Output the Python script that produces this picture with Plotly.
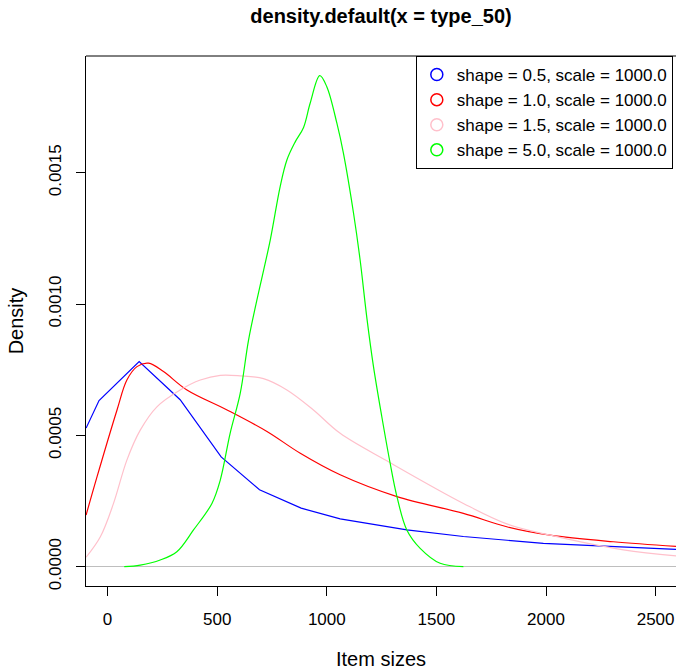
import plotly.graph_objects as go

# density estimates (x = item size, y = density)
blue_x = [-98, -39, 144, 331, 518, 693, 883, 1061, 1365, 1623, 1988, 2277, 2600]
blue_y = [0.000528, 0.000633, 0.000781, 0.000636, 0.000418, 0.000293, 0.000223,
          0.000182, 0.000140, 0.000115, 0.000089, 0.000077, 0.000066]

red_x = [-98, -48, 43, 88, 134, 187, 255, 362, 545, 727, 879, 1061, 1320, 1623,
         1821, 2019, 2307, 2600]
red_y = [0.000197, 0.000343, 0.000597, 0.000711, 0.000762, 0.000775, 0.000743,
         0.000673, 0.000597, 0.000515, 0.000432, 0.000350, 0.000267, 0.000203,
         0.000152, 0.000120, 0.000095, 0.000077]

pink_x = [-98, -33, 27, 88, 149, 225, 331, 423, 514, 605, 711, 818, 939, 1061,
          1289, 1623, 1821, 2019, 2353, 2600]
pink_y = [0.000036, 0.000114, 0.000241, 0.000406, 0.000520, 0.000609, 0.000673,
          0.000711, 0.000729, 0.000727, 0.000716, 0.000673, 0.000597, 0.000508,
          0.000396, 0.000241, 0.000163, 0.000120, 0.000064, 0.000041]

green_x = [76, 149, 240, 316, 392, 476, 514, 559, 605, 643, 681, 742, 787, 818,
           856, 894, 924, 968, 1000, 1046, 1076, 1122, 1152, 1183, 1213, 1251,
           1289, 1320, 1365, 1426, 1517, 1623]
green_y = [0.0, 0.0000063, 0.0000255, 0.000057, 0.000140, 0.000241, 0.000330,
           0.000508, 0.000660, 0.000863, 0.001015, 0.001244, 0.001447, 0.001549,
           0.001618, 0.001673, 0.001765, 0.001870, 0.001828, 0.001689, 0.001574,
           0.001346, 0.001168, 0.000946, 0.000762, 0.000571, 0.000394, 0.000267,
           0.000140, 0.000070, 0.000013, 0.0]

names = ["shape = 0.5, scale = 1000.0", "shape = 1.0, scale = 1000.0",
         "shape = 1.5, scale = 1000.0", "shape = 5.0, scale = 1000.0"]
colors = ["#0000ff", "#ff0000", "#ffc0cb", "#00ff00"]

x_ticks = [0, 500, 1000, 1500, 2000, 2500]
y_ticks = [0.0, 0.0005, 0.0010, 0.0015]
y_tick_labels = ["0.0000", "0.0005", "0.0010", "0.0015"]

fig = go.Figure()
series = [(blue_x, blue_y, "linear"), (red_x, red_y, "spline"),
          (pink_x, pink_y, "spline"), (green_x, green_y, "spline")]
for (xs, ys, shp), c in zip(series, colors):
    fig.add_trace(go.Scatter(x=xs, y=ys, mode="lines", showlegend=False,
                             line=dict(color=c, width=1.2, shape=shp)))

# legend entries with open circles like R's legend(pch=1)
for n, c in zip(names, colors):
    fig.add_trace(go.Scatter(x=[None], y=[None], mode="markers", name=n,
                             marker=dict(symbol="circle-open", size=12, color=c,
                                         line=dict(width=1.5, color=c))))

fig.update_layout(
    width=676, height=672,
    margin=dict(l=86, r=0, t=56, b=86, autoexpand=False),
    paper_bgcolor="white", plot_bgcolor="white",
    font=dict(family="Liberation Sans, Arial", size=17, color="black"),
    title=dict(text="<b>density.default(x = type_50)</b>", x=0.5, xref="paper",
               xanchor="center", y=1 - 16 / 672, yref="container",
               yanchor="middle", font=dict(size=20)),
    legend=dict(x=0.559, y=1.0, xanchor="left", yanchor="top",
                bordercolor="black", borderwidth=1, bgcolor="white",
                font=dict(size=17), itemwidth=30, tracegroupgap=0),
    showlegend=True,
)
fig.update_xaxes(range=[-98.5, 2593], tickvals=x_ticks, ticks="outside",
                 ticklen=9, tickcolor="black", showline=True, linecolor="black",
                 linewidth=1, mirror=False, showgrid=False, zeroline=False,
                 ticklabelstandoff=9, automargin=False,
                 title=dict(text="Item sizes", standoff=23))
fig.update_yaxes(range=[-0.0000735, 0.001945], tickvals=y_ticks,
                 ticktext=y_tick_labels, tickangle=-90, ticks="outside",
                 ticklen=9, tickcolor="black", showline=True, linecolor="black",
                 linewidth=1, mirror=False, showgrid=False, zeroline=True,
                 zerolinecolor="#bebebe", zerolinewidth=1, ticklabelstandoff=8,
                 automargin=False, title=dict(text="Density", standoff=17))
# top border of the plot box (right side lies outside the picture)
fig.add_shape(type="line", xref="paper", yref="paper", x0=0, x1=1, y0=1, y1=1,
              line=dict(color="black", width=1))

# drop the default 8px page margin so the figure fills the window
fig.write_html("out.html", config={"displayModeBar": False},
               post_script="document.body.style.margin='0';")
